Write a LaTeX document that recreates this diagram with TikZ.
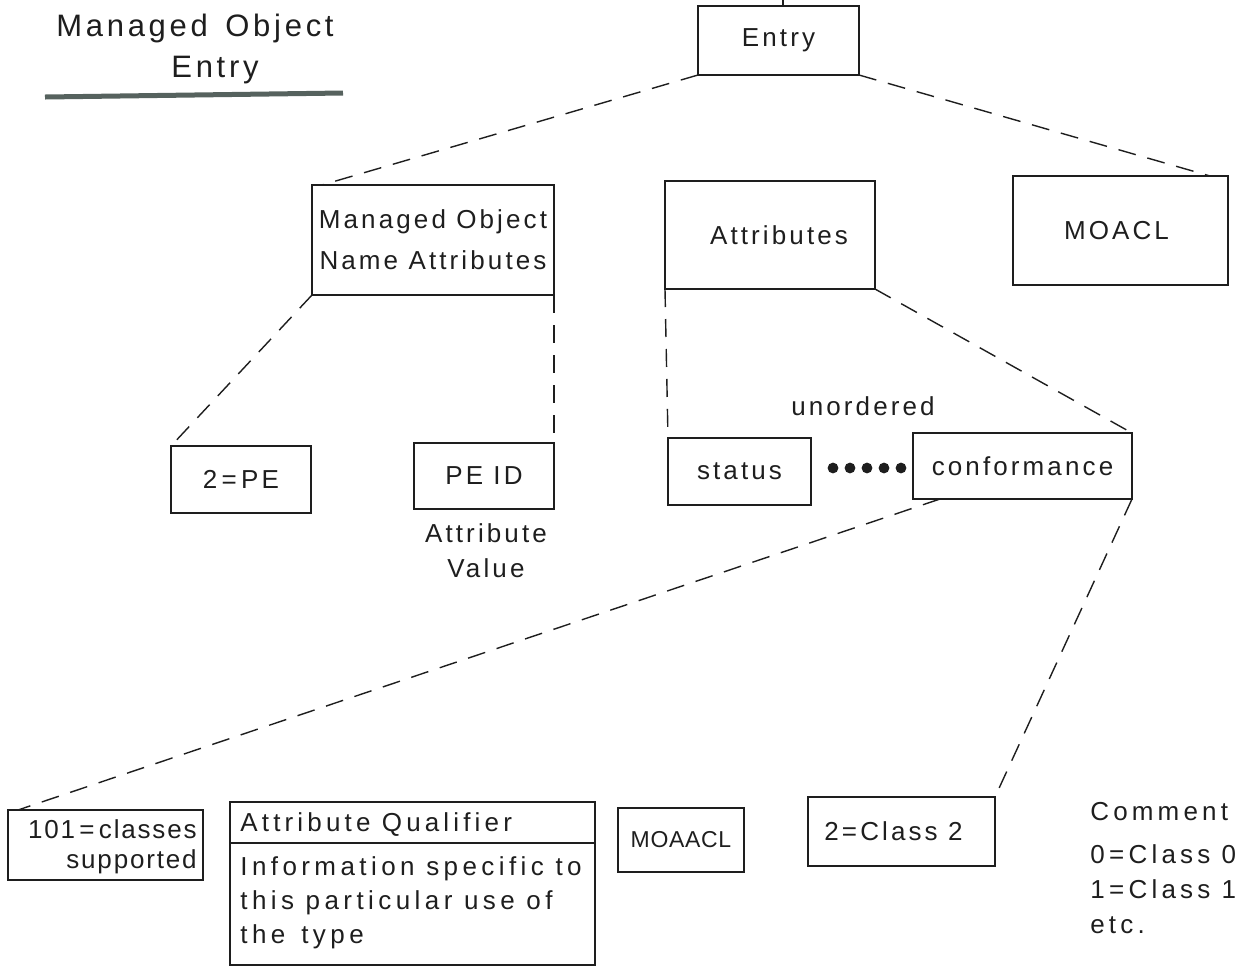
\documentclass[tikz,border=0pt]{standalone}
\usepackage{fontspec}
\setmainfont{Liberation Sans}[LetterSpace=12]
\usetikzlibrary{calc}
\definecolor{ink}{HTML}{1E1E1E}
\definecolor{rulegray}{HTML}{56625E}
\begin{document}
\begin{tikzpicture}[x=0.5pt,y=-0.5pt,
  every node/.style={text=ink, font=\fontsize{13}{20.5}\selectfont},
  box/.style={draw=ink, line width=1pt, inner sep=0pt, outer sep=0pt},
  link/.style={draw=ink, line width=0.7pt, dash pattern=on 9pt off 6pt},
  lbl/.style={inner sep=0pt}]
\useasboundingbox (0,0) rectangle (1255,966);
% title
\node[lbl, font=\fontsize{15.5}{21}\selectfont] (t1) at (195,28) {Managed\, Object};
\node[lbl, font=\fontsize{15.5}{21}\selectfont] (t2) at (215,70) {Entry};
\draw[rulegray, line width=2.5pt] (45,97) -- (343,93);
% boxes
\node[box, minimum width=80.5pt, minimum height=34.5pt] (entry) at (778.5,40.5) {Entry};
\node[box, minimum width=121pt, minimum height=55pt, align=center] (mon) at (433,240) {Managed Object\\Name Attributes};
\node[box, minimum width=105pt, minimum height=54pt] (attr) at (770,235) {\hspace*{9pt}Attributes};
\node[box, minimum width=107.5pt, minimum height=54.5pt] (moacl) at (1120.5,230.5) {MOACL\hspace*{4pt}};
\node[box, minimum width=70pt, minimum height=33.5pt] (pe2) at (241,479.5) {2\,=\,PE};
\node[box, minimum width=70pt, minimum height=33pt] (peid) at (484,476) {PE ID};
\node[box, minimum width=71.5pt, minimum height=33.5pt] (status) at (739.5,471.5) {status};
\node[box, minimum width=109.5pt, minimum height=33pt] (conf) at (1022.5,466) {conformance};
\node[box, minimum width=97.5pt, minimum height=35pt] (c101) at (105.5,845) {};
\node[lbl, align=right, anchor=east, font=\fontsize{13}{15}\selectfont\addfontfeatures{LetterSpace=7}] (c101t) at (197,847) {101\,=\,classes\\supported};
\node[box, minimum width=182.5pt, minimum height=81.5pt] (aq) at (412.5,883.5) {};
\draw[ink, line width=1pt] (aq.west |- 0,843) -- (aq.east |- 0,843);
\node[lbl, anchor=west, font=\fontsize{13}{17}\selectfont\addfontfeatures{LetterSpace=16}] (aqh) at (240,825) {Attribute Qualifier};
\node[lbl, anchor=north west, align=left, font=\fontsize{13}{17}\selectfont\addfontfeatures{LetterSpace=17}] (aqb) at (240,856) {Information specific to\\this particular use of\\the\, type};
\node[box, minimum width=63pt, minimum height=32pt] (moaacl) at (681,840) {\fontsize{11.5}{13}\selectfont\addfontfeatures{LetterSpace=3}MOAACL};
\node[box, minimum width=93.5pt, minimum height=34.5pt] (cls2) at (901.5,831.5) {2=Class 2\hspace*{8pt}};
% free labels
\node[lbl] (unord) at (863,406) {unordered};
\node[lbl, align=center, font=\fontsize{13}{17.5}\selectfont] (attval) at (486,551) {Attribute\\Value};
\node[lbl, anchor=north west, align=left, font=\fontsize{13}{20.5}\selectfont\addfontfeatures{LetterSpace=16}] (comment) at (1090,802) {Comment\\[1pt]0\,=\,Class 0\\[-3pt]1\,=\,Class 1\\[-3pt]etc.};
% dots
\foreach \xx in {833,850,867,884,901} \fill[ink] (\xx,468) circle (2.7pt);
% connectors
\coordinate (top) at (783,0);
\draw[ink, line width=1pt] (top) -- (entry.north -| top);
\draw[link] (entry.south west) -- ($(mon.north west)+(10,0)$);
\draw[link] (entry.south east) -- ($(moacl.north east)+(-18,0)$);
\draw[link] (mon.south west) -- (pe2.north west);
\draw[link] (mon.south east) -- (peid.north east);
\draw[link] (attr.south west) -- (status.north west);
\draw[link] (attr.south east) -- (conf.north east);
\draw[link] ($(conf.south west)+(27,0)$) -- ($(c101.north west)+(10,0)$);
\draw[link] (conf.south east) -- (cls2.north east);
\end{tikzpicture}
\end{document}
